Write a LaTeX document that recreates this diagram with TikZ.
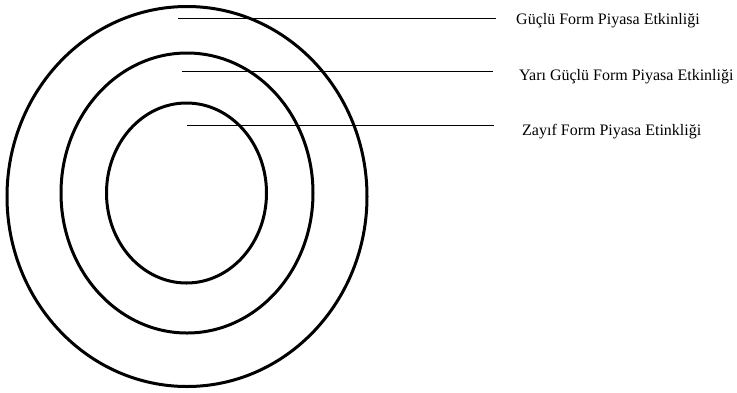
\documentclass[tikz,border=0pt]{standalone}
\usepackage{fontspec}
\setmainfont{Liberation Serif}
\usetikzlibrary{shapes.geometric}
\begin{document}
\begin{tikzpicture}[x=1pt,y=-1pt,
  ring/.style={draw=black,line width=3pt},
  lbl/.style={anchor=base west,inner sep=0pt,font=\fontsize{16}{18}\selectfont},
  lead/.style={draw=black,line width=0.9pt}]
\useasboundingbox (0,0) rectangle (737,392);
\draw[ring] (187,196.5) ellipse [x radius=180,y radius=190];
\draw[ring] (187,193) ellipse [x radius=126,y radius=140];
\draw[ring] (186.5,193) ellipse [x radius=80,y radius=90];
\node[lbl] (t1) at (516,24) {Güçlü Form Piyasa Etkinliği};
\node[lbl] (t2) at (519,80) {Yarı Güçlü Form Piyasa Etkinliği};
\node[lbl] (t3) at (522,135) {Zayıf Form Piyasa Etinkliği};
\coordinate (s1) at (178,18);
\coordinate (s2) at (182,71);
\coordinate (s3) at (187,125);
\coordinate (e1) at (496,18);
\coordinate (e2) at (493,71);
\coordinate (e3) at (494,125);
\draw[lead] (s1) -- (e1);
\draw[lead] (s2) -- (e2);
\draw[lead] (s3) -- (e3);
\end{tikzpicture}
\end{document}
